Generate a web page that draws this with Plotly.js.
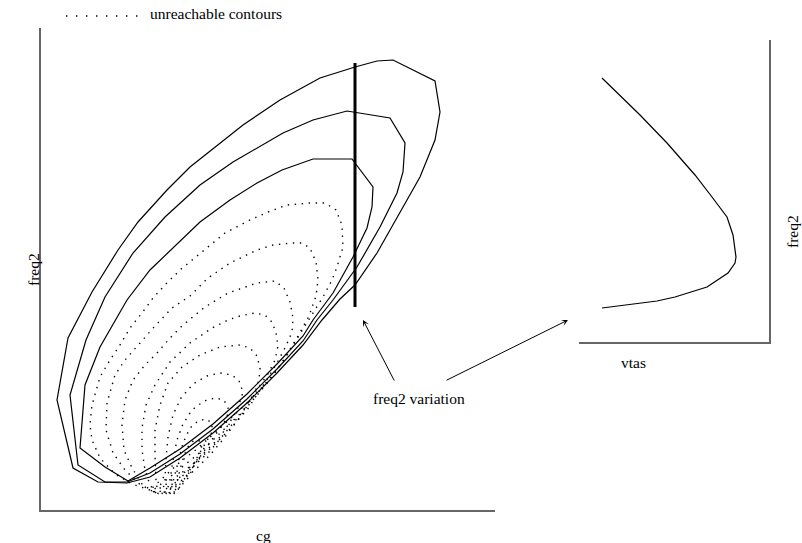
<!DOCTYPE html>
<html>
<head>
<meta charset="utf-8">
<script src="https://cdn.plot.ly/plotly-3.0.1.min.js"></script>
<style>
  html, body { margin: 0; padding: 0; background: #fff; }
  #chart { width: 802px; height: 543px; }
</style>
</head>
<body>
<div id="chart"></div>
<script>
// ---- reachable (solid) freq2 contours over cg ----
const cgC1 = [86,109,139,172,206,236,262,281,299,314,336,359,379,394,399,394,352,336,314,279,259,239,202,149,126,97,77,51,27,16,32,57,86];
const frC1 = [27,33,52,77,107,137,165,190,211,225,257,297,333,370,398,429,450,449,443,432,421,410,385,343,320,288,260,218,172,110,42,28,27];

const cgC2 = [86,109,139,172,206,236,262,276,292,316,339,356,362,364,349,306,272,242,192,159,124,92,64,45,29,37,64,86];
const frC2 = [28,37,56,81,111,141,169,190,210,243,283,317,338,367,392,399,390,377,348,325,293,257,213,170,115,45,28,28];

const cgC3 = [87,109,139,172,206,236,262,272,292,312,326,331,332,311,272,241,216,189,159,109,86,59,44,39,64,87];
const frC3 = [29,42,61,86,116,146,174,190,217,253,282,303,323,351,351,340,327,310,288,240,210,163,125,62,43,29];

// ---- unreachable (dotted) contours ----
const cgD1 = [109,91,74,59,51,49,51,59,69,79,89,101,112,124,139,161,184,209,227,246,269,284,295,301,302,296,291,282,272,262,251,239,224,206,189,172,156,139,124,109];
const frD1 = [20,26,36,52,70,85,105,133,150,165,182,197,212,225,240,258,277,290,298,305,307,307,300,285,263,243,230,213,197,180,162,144,126,107,91,76,61,48,34,20];

const cgD2 = [111,97,84,72,65,66,74,84,99,114,131,149,167,189,216,232,251,261,269,275,277,275,268,257,244,229,206,189,172,156,139,124,111];
const frD2 = [19,27,40,57,80,107,135,150,167,184,202,214,232,247,260,265,267,267,262,248,230,214,194,174,152,130,103,86,70,55,41,29,19];

const cgD3 = [113,101,91,83,81,84,92,104,116,129,142,164,187,216,234,243,249,252,251,245,237,227,206,189,172,156,139,124,113];
const frD3 = [18,26,42,60,85,110,130,145,157,172,185,203,217,227,229,222,208,192,178,164,149,132,100,81,64,49,36,25,18];

const cgD4 = [115,109,104,101,101,105,114,129,149,171,187,199,214,224,231,235,237,234,227,217,199,184,169,154,139,125,115];
const frD4 = [17,25,40,60,82,105,125,148,167,182,190,194,197,195,188,177,164,150,136,122,95,77,59,45,32,21,17];

const cgD5 = [117,115,114,114,119,127,141,159,179,199,209,216,219,218,213,199,184,169,154,139,127,117];
const frD5 = [16,30,55,80,105,127,143,155,163,165,162,154,142,130,115,93,73,55,40,28,19,16];

const cgD6 = [121,124,125,127,132,140,152,166,179,191,198,202,197,189,179,169,159,149,139,129,121];
const frD6 = [16,30,52,73,95,112,126,134,137,135,129,118,102,88,73,63,53,44,33,21,16];

const cgD7 = [125,129,132,136,142,151,163,174,183,187,186,171,157,145,134,125];
const frD7 = [16,30,50,70,86,100,109,112,110,102,92,70,50,33,20,16];

const cgD8 = [129,133,137,142,149,157,165,171,171,159,147,137,129];
const frD8 = [16,32,50,67,82,89,91,87,78,57,37,20,16];

const cgD9 = [133,137,141,146,153,159,161,155,147,133];
const frD9 = [16,32,48,62,70,69,61,48,32,16];

// ---- freq2 variation at fixed cg ----
const cgFixed = [314, 314];
const frRange = [447, 203];

// ---- freq2 against vtas ----
const vtas = [23,61,88,116,133,148,154,157,156,149,128,96,78,23];
const frVtas = [264,227,199,167,145,125,107,85,79,69,55,45,41,34];

const solidLine = { color: '#000', width: 1.2 };
const dotLine = { color: '#000', width: 1.4, dash: '1.4px,5.6px' };

function contour(x, y, line) {
  return { x: x, y: y, type: 'scatter', mode: 'lines', line: line,
           hoverinfo: 'skip', showlegend: false, xaxis: 'x', yaxis: 'y' };
}

const traces = [
  contour(cgD1, frD1, dotLine),
  contour(cgD2, frD2, dotLine),
  contour(cgD3, frD3, dotLine),
  contour(cgD4, frD4, dotLine),
  contour(cgD5, frD5, dotLine),
  contour(cgD6, frD6, dotLine),
  contour(cgD7, frD7, dotLine),
  contour(cgD8, frD8, dotLine),
  contour(cgD9, frD9, dotLine),
  contour(cgC1, frC1, solidLine),
  contour(cgC2, frC2, solidLine),
  contour(cgC3, frC3, solidLine),
  contour(cgFixed, frRange, { color: '#000', width: 3 }),
  { x: vtas, y: frVtas, type: 'scatter', mode: 'lines', line: solidLine,
    hoverinfo: 'skip', showlegend: false, xaxis: 'x2', yaxis: 'y2' }
];

const W = 802, H = 543;
const px = v => v / W;
const py = v => 1 - v / H;

const bareAxis = {
  showgrid: false, zeroline: false, showticklabels: false, ticks: '',
  showline: true, linecolor: '#666', linewidth: 2, fixedrange: true
};

const serif = { family: 'Liberation Serif, Times New Roman, serif', size: 15.5, color: '#000' };

function label(text, x, y, extra) {
  return Object.assign({ text: text, xref: 'paper', yref: 'paper', x: px(x), y: py(y),
    showarrow: false, font: serif, xanchor: 'center', yanchor: 'middle' }, extra || {});
}

function arrow(headX, headY, tailX, tailY) {
  return { text: '', xref: 'paper', yref: 'paper', x: px(headX), y: py(headY),
    ax: tailX - headX, ay: tailY - headY, showarrow: true,
    arrowhead: 3, arrowsize: 1.1, arrowwidth: 1, arrowcolor: '#000' };
}

const layout = {
  width: W, height: H,
  margin: { l: 0, r: 0, t: 0, b: 0 },
  paper_bgcolor: '#fff', plot_bgcolor: '#fff',
  showlegend: false, hovermode: false,
  xaxis: Object.assign({}, bareAxis, { domain: [px(41), px(495)], range: [0, 454], anchor: 'y' }),
  yaxis: Object.assign({}, bareAxis, { domain: [py(510), py(28)], range: [0, 482], anchor: 'x' }),
  xaxis2: Object.assign({}, bareAxis, { domain: [px(579), px(769)], range: [0, 190], anchor: 'y2' }),
  yaxis2: Object.assign({}, bareAxis, { domain: [py(342), py(40)], range: [0, 302], anchor: 'x2', side: 'right' }),
  shapes: [
    { type: 'line', xref: 'paper', yref: 'paper', x0: px(66), x1: px(140), y0: py(16), y1: py(16),
      line: { color: '#000', width: 1.4, dash: '1.4px,8.6px' } }
  ],
  annotations: [
    label('unreachable contours', 148, 13, { xanchor: 'left' }),
    label('cg', 263, 535),
    label('freq2', 33, 270, { textangle: -90 }),
    label('vtas', 633, 362),
    label('freq2', 792, 232, { textangle: -90 }),
    label('freq2 variation', 419, 398),
    arrow(363, 320, 395, 382),
    arrow(568, 320, 445, 381)
  ]
};

Plotly.newPlot('chart', traces, layout, { staticPlot: true, displayModeBar: false });
</script>
</body>
</html>
